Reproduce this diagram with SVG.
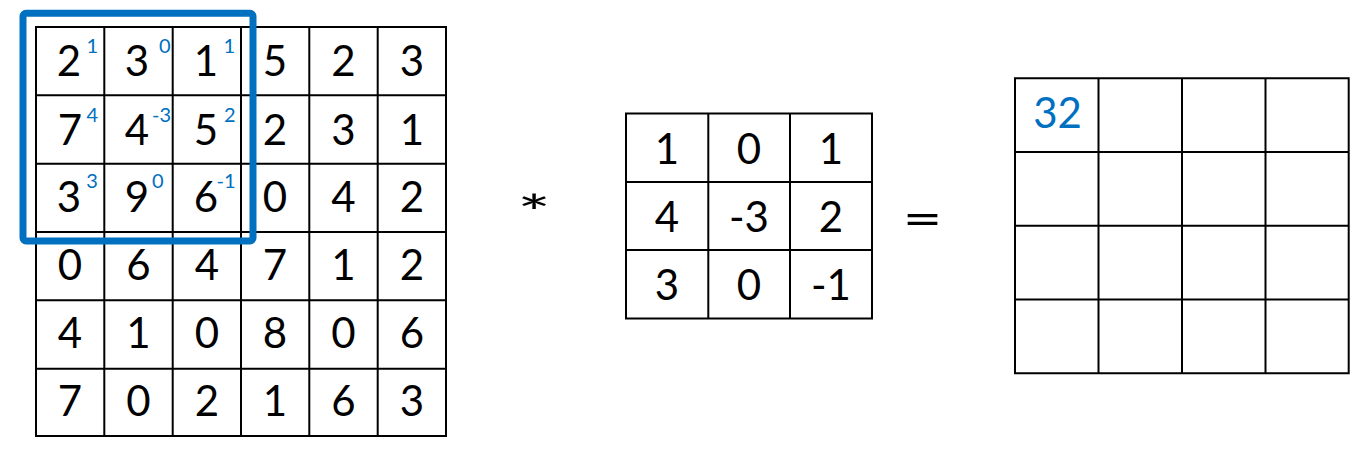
<svg xmlns="http://www.w3.org/2000/svg" width="1356" height="449" viewBox="0 0 1356 449">
<style>
.grid{fill:none;stroke:#000;stroke-width:2}
.d{font-family:Lato,"Liberation Sans",sans-serif;font-size:42px;fill:#000;text-anchor:middle}
.s{font-family:Lato,"Liberation Sans",sans-serif;font-size:20px;fill:#0070C0;text-anchor:middle}
</style>
<rect width="1356" height="449" fill="#fff"/>
<g id="input">
<path class="grid" d="M36 27H446V436H36Z M104.3 27V436 M172.7 27V436 M241 27V436 M309.3 27V436 M377.7 27V436 M36 95.3H446 M36 163.7H446 M36 232H446 M36 300.3H446 M36 368.7H446"/>
<g class="d">
<text x="69" y="76">2</text><text x="137" y="76">3</text><text x="206" y="76">1</text><text x="275" y="76">5</text><text x="343.5" y="76">2</text><text x="412" y="76">3</text>
<text x="70" y="145">7</text><text x="137" y="145">4</text><text x="206" y="145">5</text><text x="275" y="145">2</text><text x="343.5" y="145">3</text><text x="412" y="145">1</text>
<text x="69" y="212">3</text><text x="137" y="212">9</text><text x="206" y="212">6</text><text x="275" y="212">0</text><text x="343.5" y="212">4</text><text x="412" y="212">2</text>
<text x="70" y="280">0</text><text x="138.5" y="280">6</text><text x="207" y="280">4</text><text x="275" y="280">7</text><text x="343.5" y="280">1</text><text x="412" y="280">2</text>
<text x="70" y="348">4</text><text x="138.5" y="348">1</text><text x="207" y="348">0</text><text x="275" y="348">8</text><text x="343.5" y="348">0</text><text x="412" y="348">6</text>
<text x="70" y="416">7</text><text x="138.5" y="416">0</text><text x="207" y="416">2</text><text x="275" y="416">1</text><text x="343.5" y="416">6</text><text x="412" y="416">3</text>
</g>
<g class="s">
<text x="92.3" y="53">1</text><text x="164.7" y="53">0</text><text x="229.3" y="53">1</text>
<text x="92.3" y="122">4</text><text x="161.5" y="122">-3</text><text x="229.8" y="122">2</text>
<text x="92" y="188.3">3</text><text x="157.7" y="188.3">0</text><text x="226" y="188.3">-1</text>
</g>
</g>
<g id="window">
<rect x="23" y="13.3" width="230" height="227.7" rx="3" fill="none" stroke="#0070C0" stroke-width="7"/>
</g>
<g id="operator-conv">
<text class="d" transform="translate(534,205) scale(1.8,1.1)" x="0" y="23" style="font-size:44px">*</text>
</g>
<g id="kernel">
<path class="grid" d="M626 113.5H872V318.5H626Z M708.3 113.5V318.5 M790 113.5V318.5 M626 182H872 M626 250H872"/>
<g class="d">
<text x="667" y="163.5">1</text><text x="749" y="163.5">0</text><text x="831" y="163.5">1</text>
<text x="667" y="231.7">4</text><text x="749" y="231.7">-3</text><text x="831" y="231.7">2</text>
<text x="667" y="300">3</text><text x="749" y="300">0</text><text x="831" y="300">-1</text>
</g>
</g>
<g id="operator-eq">
<text class="d" transform="translate(922.5,0) scale(1.5,1)" x="0" y="235" style="font-size:46px">=</text>
</g>
<g id="output">
<path class="grid" d="M1015 78.3H1348.7V373.3H1015Z M1098.5 78.3V373.3 M1182 78.3V373.3 M1265.5 78.3V373.3 M1015 152H1348.7 M1015 225.7H1348.7 M1015 299.5H1348.7"/>
<text class="d" x="1057.5" y="128.3" style="fill:#0070C0">32</text>
</g>
</svg>
